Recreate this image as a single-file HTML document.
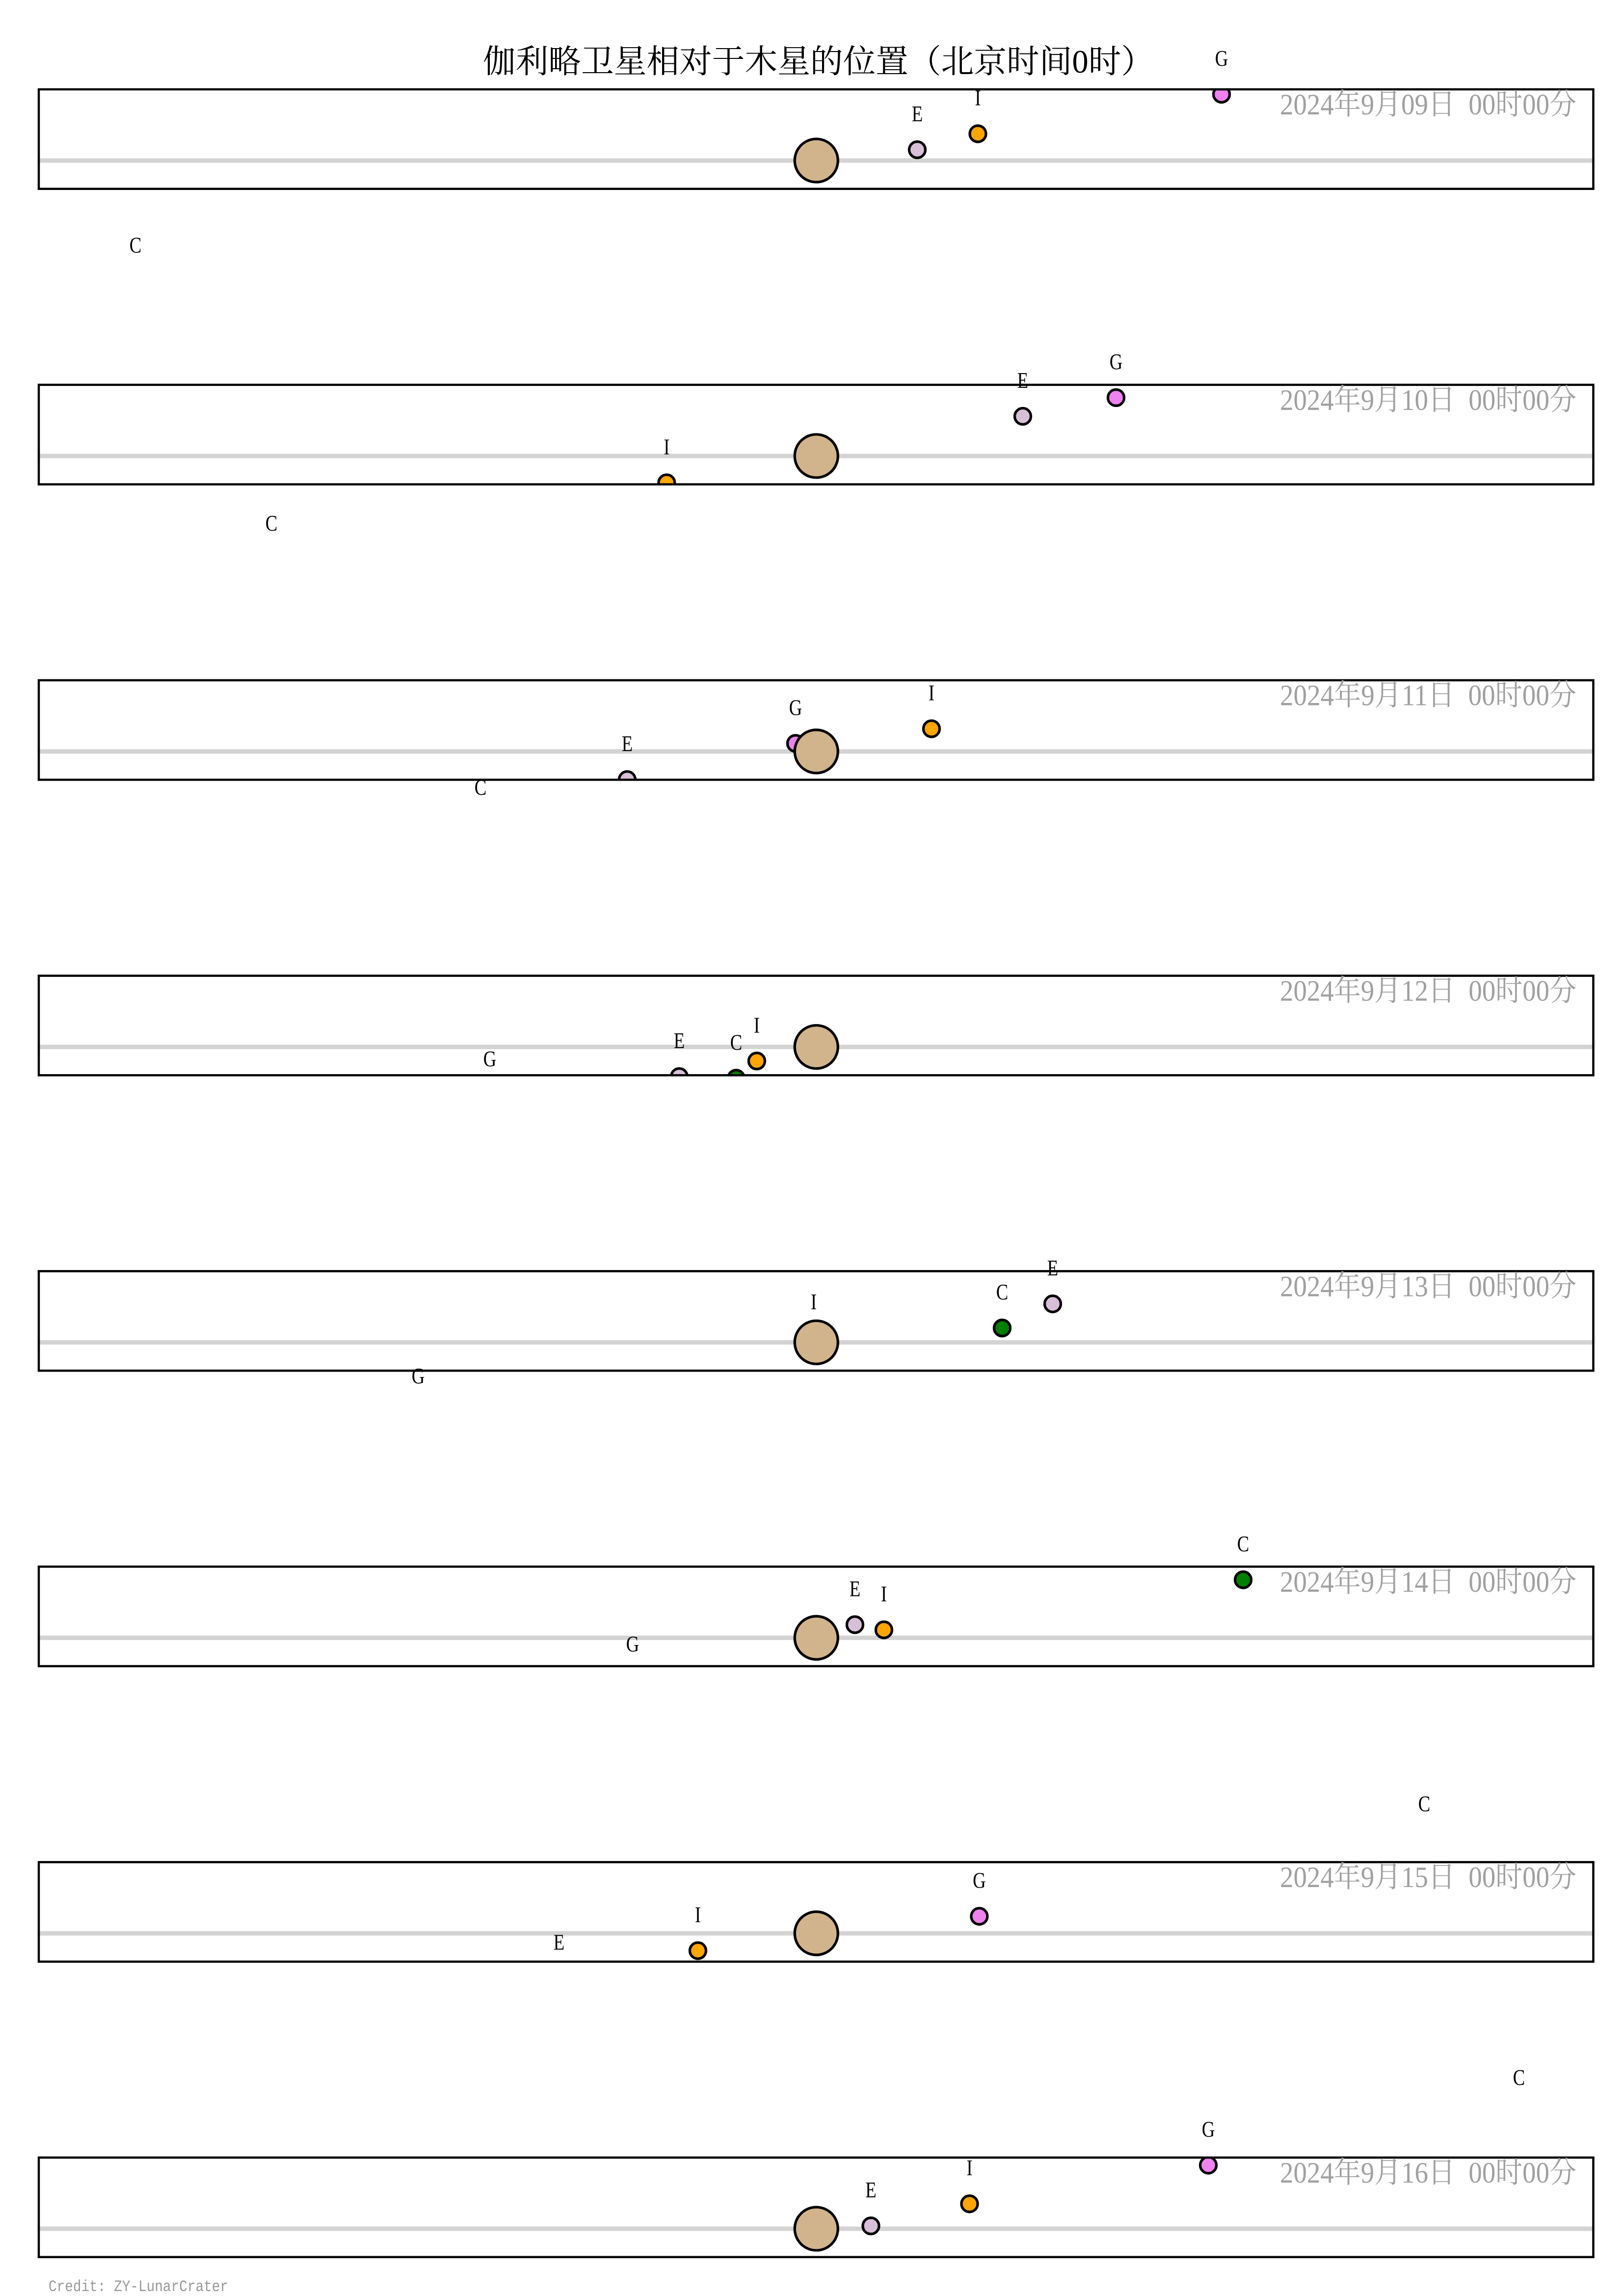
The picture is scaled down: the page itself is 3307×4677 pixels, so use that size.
<!DOCTYPE html>
<html>
<head>
<meta charset="utf-8">
<style>
html,body{margin:0;padding:0;background:#fff;}
svg{display:block;}
.t{font-family:"Liberation Serif","Noto Serif CJK SC","Noto Sans CJK SC",serif;}
.lb{font-family:"Liberation Serif","Noto Serif CJK SC",serif;font-size:46px;fill:#000;}
.dt{font-family:"Liberation Serif","Noto Serif CJK SC",serif;font-size:60px;fill:#a0a0a0;}
</style>
</head>
<body>
<svg width="3307" height="4677" viewBox="0 0 3307 4677" xmlns="http://www.w3.org/2000/svg">
<rect x="0" y="0" width="3307" height="4677" fill="#fff"/>
<defs>
<clipPath id="c0"><rect x="79" y="182" width="3167.5" height="202.7"/></clipPath>
<clipPath id="c1"><rect x="79" y="783.9" width="3167.5" height="202.7"/></clipPath>
<clipPath id="c2"><rect x="79" y="1385.7" width="3167.5" height="202.7"/></clipPath>
<clipPath id="c3"><rect x="79" y="1987.6" width="3167.5" height="202.7"/></clipPath>
<clipPath id="c4"><rect x="79" y="2589.4" width="3167.5" height="202.7"/></clipPath>
<clipPath id="c5"><rect x="79" y="3191.3" width="3167.5" height="202.7"/></clipPath>
<clipPath id="c6"><rect x="79" y="3793.2" width="3167.5" height="202.7"/></clipPath>
<clipPath id="c7"><rect x="79" y="4395" width="3167.5" height="202.7"/></clipPath>
</defs>

<text class="t" x="984" y="148" font-size="66.7" fill="#000">伽利略卫星相对于木星的位置（北京时间0时）</text>

<!-- Panel 1 -->
<g clip-path="url(#c0)">
<line x1="79" x2="3246.5" y1="327" y2="327" stroke="#d3d3d3" stroke-width="9"/>
<circle cx="276" cy="572.5" r="16.5" fill="#008000" stroke="#000" stroke-width="5.3"/>
<circle cx="1869" cy="305" r="16.5" fill="#d8bfd8" stroke="#000" stroke-width="5.3"/>
<circle cx="1992.5" cy="272.5" r="16.5" fill="#ffa500" stroke="#000" stroke-width="5.3"/>
<circle cx="2489" cy="192" r="16.5" fill="#ee82ee" stroke="#000" stroke-width="5.3"/>
<circle cx="1663.3" cy="327" r="44" fill="#d2b48c" stroke="#000" stroke-width="5.3"/>
</g>
<rect x="79" y="182" width="3167.5" height="202.7" fill="none" stroke="#000" stroke-width="4.5"/>
<text class="dt" x="2608" y="233" textLength="604" lengthAdjust="spacingAndGlyphs">2024年9月09日&#160;&#160;00时00分</text>
<text class="lb" text-anchor="middle" transform="translate(1869,247) scale(0.8,1)">E</text>
<text class="lb" text-anchor="middle" transform="translate(1992.5,214.5) scale(0.8,1)">I</text>
<text class="lb" text-anchor="middle" transform="translate(2489,134) scale(0.8,1)">G</text>
<text class="lb" text-anchor="middle" transform="translate(276,514.5) scale(0.8,1)">C</text>

<!-- Panel 2 -->
<g clip-path="url(#c1)">
<line x1="79" x2="3246.5" y1="928.9" y2="928.9" stroke="#d3d3d3" stroke-width="9"/>
<circle cx="553" cy="1139" r="16.5" fill="#008000" stroke="#000" stroke-width="5.3"/>
<circle cx="2084" cy="848" r="16.5" fill="#d8bfd8" stroke="#000" stroke-width="5.3"/>
<circle cx="1358.4" cy="983.5" r="16.5" fill="#ffa500" stroke="#000" stroke-width="5.3"/>
<circle cx="2274" cy="810" r="16.5" fill="#ee82ee" stroke="#000" stroke-width="5.3"/>
<circle cx="1663.3" cy="928.9" r="44" fill="#d2b48c" stroke="#000" stroke-width="5.3"/>
</g>
<rect x="79" y="783.9" width="3167.5" height="202.7" fill="none" stroke="#000" stroke-width="4.5"/>
<text class="dt" x="2608" y="834.9" textLength="604" lengthAdjust="spacingAndGlyphs">2024年9月10日&#160;&#160;00时00分</text>
<text class="lb" text-anchor="middle" transform="translate(2084,790) scale(0.8,1)">E</text>
<text class="lb" text-anchor="middle" transform="translate(1358.4,925.5) scale(0.8,1)">I</text>
<text class="lb" text-anchor="middle" transform="translate(2274,752) scale(0.8,1)">G</text>
<text class="lb" text-anchor="middle" transform="translate(553,1081) scale(0.8,1)">C</text>

<!-- Panel 3 -->
<g clip-path="url(#c2)">
<line x1="79" x2="3246.5" y1="1530.7" y2="1530.7" stroke="#d3d3d3" stroke-width="9"/>
<circle cx="979" cy="1677" r="16.5" fill="#008000" stroke="#000" stroke-width="5.3"/>
<circle cx="1278" cy="1588" r="16.5" fill="#d8bfd8" stroke="#000" stroke-width="5.3"/>
<circle cx="1898" cy="1484.5" r="16.5" fill="#ffa500" stroke="#000" stroke-width="5.3"/>
<circle cx="1621" cy="1514.3" r="16.5" fill="#ee82ee" stroke="#000" stroke-width="5.3"/>
<circle cx="1663.3" cy="1530.7" r="44" fill="#d2b48c" stroke="#000" stroke-width="5.3"/>
</g>
<rect x="79" y="1385.7" width="3167.5" height="202.7" fill="none" stroke="#000" stroke-width="4.5"/>
<text class="dt" x="2608" y="1436.7" textLength="604" lengthAdjust="spacingAndGlyphs">2024年9月11日&#160;&#160;00时00分</text>
<text class="lb" text-anchor="middle" transform="translate(1278,1530) scale(0.8,1)">E</text>
<text class="lb" text-anchor="middle" transform="translate(1898,1426.5) scale(0.8,1)">I</text>
<text class="lb" text-anchor="middle" transform="translate(1621,1456.3) scale(0.8,1)">G</text>
<text class="lb" text-anchor="middle" transform="translate(979,1619) scale(0.8,1)">C</text>

<!-- Panel 4 -->
<g clip-path="url(#c3)">
<line x1="79" x2="3246.5" y1="2132.6" y2="2132.6" stroke="#d3d3d3" stroke-width="9"/>
<circle cx="998" cy="2230" r="16.5" fill="#ee82ee" stroke="#000" stroke-width="5.3"/>
<circle cx="1384" cy="2193" r="16.5" fill="#d8bfd8" stroke="#000" stroke-width="5.3"/>
<circle cx="1500" cy="2196.3" r="16.5" fill="#008000" stroke="#000" stroke-width="5.3"/>
<circle cx="1542" cy="2161.3" r="16.5" fill="#ffa500" stroke="#000" stroke-width="5.3"/>
<circle cx="1663.3" cy="2132.6" r="44" fill="#d2b48c" stroke="#000" stroke-width="5.3"/>
</g>
<rect x="79" y="1987.6" width="3167.5" height="202.7" fill="none" stroke="#000" stroke-width="4.5"/>
<text class="dt" x="2608" y="2038.6" textLength="604" lengthAdjust="spacingAndGlyphs">2024年9月12日&#160;&#160;00时00分</text>
<text class="lb" text-anchor="middle" transform="translate(1384,2135) scale(0.8,1)">E</text>
<text class="lb" text-anchor="middle" transform="translate(1542,2103.3) scale(0.8,1)">I</text>
<text class="lb" text-anchor="middle" transform="translate(998,2172) scale(0.8,1)">G</text>
<text class="lb" text-anchor="middle" transform="translate(1500,2138.3) scale(0.8,1)">C</text>

<!-- Panel 5 -->
<g clip-path="url(#c4)">
<line x1="79" x2="3246.5" y1="2734.4" y2="2734.4" stroke="#d3d3d3" stroke-width="9"/>
<circle cx="852" cy="2876" r="16.5" fill="#ee82ee" stroke="#000" stroke-width="5.3"/>
<circle cx="2145" cy="2656" r="16.5" fill="#d8bfd8" stroke="#000" stroke-width="5.3"/>
<circle cx="2042" cy="2705.2" r="16.5" fill="#008000" stroke="#000" stroke-width="5.3"/>
<circle cx="1658" cy="2725" r="16.5" fill="#ffa500" stroke="#000" stroke-width="5.3"/>
<circle cx="1663.3" cy="2734.4" r="44" fill="#d2b48c" stroke="#000" stroke-width="5.3"/>
</g>
<rect x="79" y="2589.4" width="3167.5" height="202.7" fill="none" stroke="#000" stroke-width="4.5"/>
<text class="dt" x="2608" y="2640.4" textLength="604" lengthAdjust="spacingAndGlyphs">2024年9月13日&#160;&#160;00时00分</text>
<text class="lb" text-anchor="middle" transform="translate(2145,2598) scale(0.8,1)">E</text>
<text class="lb" text-anchor="middle" transform="translate(1658,2667) scale(0.8,1)">I</text>
<text class="lb" text-anchor="middle" transform="translate(852,2818) scale(0.8,1)">G</text>
<text class="lb" text-anchor="middle" transform="translate(2042,2647.2) scale(0.8,1)">C</text>

<!-- Panel 6 -->
<g clip-path="url(#c5)">
<line x1="79" x2="3246.5" y1="3336.3" y2="3336.3" stroke="#d3d3d3" stroke-width="9"/>
<circle cx="1289" cy="3422" r="16.5" fill="#ee82ee" stroke="#000" stroke-width="5.3"/>
<circle cx="2533" cy="3218" r="16.5" fill="#008000" stroke="#000" stroke-width="5.3"/>
<circle cx="1742" cy="3309.5" r="16.5" fill="#d8bfd8" stroke="#000" stroke-width="5.3"/>
<circle cx="1801" cy="3320" r="16.5" fill="#ffa500" stroke="#000" stroke-width="5.3"/>
<circle cx="1663.3" cy="3336.3" r="44" fill="#d2b48c" stroke="#000" stroke-width="5.3"/>
</g>
<rect x="79" y="3191.3" width="3167.5" height="202.7" fill="none" stroke="#000" stroke-width="4.5"/>
<text class="dt" x="2608" y="3242.3" textLength="604" lengthAdjust="spacingAndGlyphs">2024年9月14日&#160;&#160;00时00分</text>
<text class="lb" text-anchor="middle" transform="translate(1742,3251.5) scale(0.8,1)">E</text>
<text class="lb" text-anchor="middle" transform="translate(1801,3262) scale(0.8,1)">I</text>
<text class="lb" text-anchor="middle" transform="translate(1289,3364) scale(0.8,1)">G</text>
<text class="lb" text-anchor="middle" transform="translate(2533,3160) scale(0.8,1)">C</text>

<!-- Panel 7 -->
<g clip-path="url(#c6)">
<line x1="79" x2="3246.5" y1="3938.2" y2="3938.2" stroke="#d3d3d3" stroke-width="9"/>
<circle cx="2902" cy="3747.3" r="16.5" fill="#008000" stroke="#000" stroke-width="5.3"/>
<circle cx="1139" cy="4029.6" r="16.5" fill="#d8bfd8" stroke="#000" stroke-width="5.3"/>
<circle cx="1422" cy="3973.5" r="16.5" fill="#ffa500" stroke="#000" stroke-width="5.3"/>
<circle cx="1995.4" cy="3903.5" r="16.5" fill="#ee82ee" stroke="#000" stroke-width="5.3"/>
<circle cx="1663.3" cy="3938.2" r="44" fill="#d2b48c" stroke="#000" stroke-width="5.3"/>
</g>
<rect x="79" y="3793.2" width="3167.5" height="202.7" fill="none" stroke="#000" stroke-width="4.5"/>
<text class="dt" x="2608" y="3844.2" textLength="604" lengthAdjust="spacingAndGlyphs">2024年9月15日&#160;&#160;00时00分</text>
<text class="lb" text-anchor="middle" transform="translate(1139,3971.6) scale(0.8,1)">E</text>
<text class="lb" text-anchor="middle" transform="translate(1422,3915.5) scale(0.8,1)">I</text>
<text class="lb" text-anchor="middle" transform="translate(1995.4,3845.5) scale(0.8,1)">G</text>
<text class="lb" text-anchor="middle" transform="translate(2902,3689.3) scale(0.8,1)">C</text>

<!-- Panel 8 -->
<g clip-path="url(#c7)">
<line x1="79" x2="3246.5" y1="4540" y2="4540" stroke="#d3d3d3" stroke-width="9"/>
<circle cx="3095" cy="4305" r="16.5" fill="#008000" stroke="#000" stroke-width="5.3"/>
<circle cx="1774.5" cy="4534.2" r="16.5" fill="#d8bfd8" stroke="#000" stroke-width="5.3"/>
<circle cx="1975.5" cy="4489.2" r="16.5" fill="#ffa500" stroke="#000" stroke-width="5.3"/>
<circle cx="2462" cy="4410.5" r="16.5" fill="#ee82ee" stroke="#000" stroke-width="5.3"/>
<circle cx="1663.3" cy="4540" r="44" fill="#d2b48c" stroke="#000" stroke-width="5.3"/>
</g>
<rect x="79" y="4395" width="3167.5" height="202.7" fill="none" stroke="#000" stroke-width="4.5"/>
<text class="dt" x="2608" y="4446" textLength="604" lengthAdjust="spacingAndGlyphs">2024年9月16日&#160;&#160;00时00分</text>
<text class="lb" text-anchor="middle" transform="translate(1774.5,4476.2) scale(0.8,1)">E</text>
<text class="lb" text-anchor="middle" transform="translate(1975.5,4431.2) scale(0.8,1)">I</text>
<text class="lb" text-anchor="middle" transform="translate(2462,4352.5) scale(0.8,1)">G</text>
<text class="lb" text-anchor="middle" transform="translate(3095,4247) scale(0.8,1)">C</text>

<text x="99" y="4667" font-family="'Liberation Mono', monospace" font-size="32" fill="#999" textLength="366" lengthAdjust="spacingAndGlyphs">Credit: ZY-LunarCrater</text>
</svg>
</body>
</html>
